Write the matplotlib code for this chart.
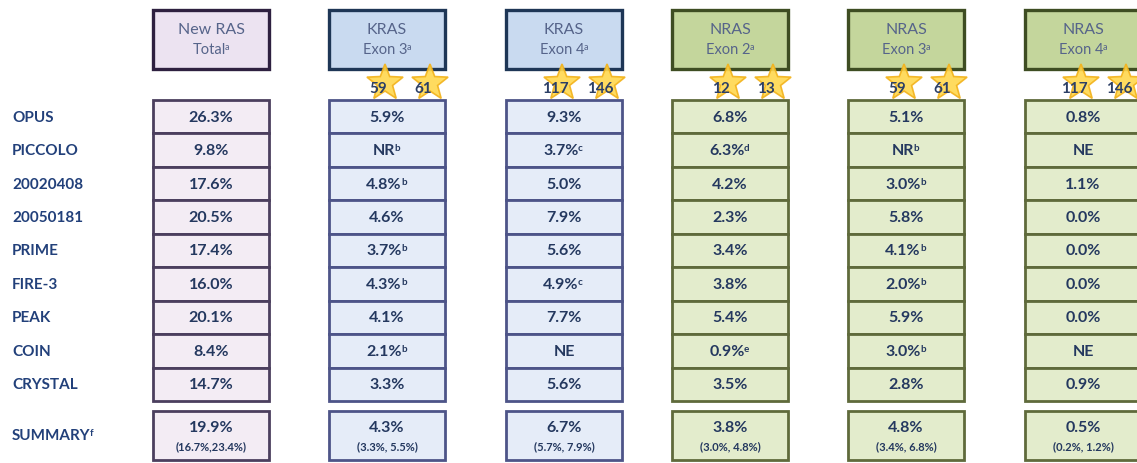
import matplotlib
matplotlib.use("Agg")
import matplotlib.pyplot as plt
import numpy as np
from matplotlib.patches import Rectangle, Polygon

studies = ['OPUS', 'PICCOLO', '20020408', '20050181', 'PRIME', 'FIRE-3', 'PEAK', 'COIN', 'CRYSTAL']

headers = [('New RAS', 'Total'), ('KRAS', 'Exon 3'), ('KRAS', 'Exon 4'),
           ('NRAS', 'Exon 2'), ('NRAS', 'Exon 3'), ('NRAS', 'Exon 4')]
codons = [None, ('59', '61'), ('117', '146'), ('12', '13'), ('59', '61'), ('117', '146')]

new_ras = ['26.3%', '9.8%', '17.6%', '20.5%', '17.4%', '16.0%', '20.1%', '8.4%', '14.7%']
new_ras_sup = [''] * 9
kras3 = ['5.9%', 'NR', '4.8%', '4.6%', '3.7%', '4.3%', '4.1%', '2.1%', '3.3%']
kras3_sup = ['', 'b', 'b', '', 'b', 'b', '', 'b', '']
kras4 = ['9.3%', '3.7%', '5.0%', '7.9%', '5.6%', '4.9%', '7.7%', 'NE', '5.6%']
kras4_sup = ['', 'c', '', '', '', 'c', '', '', '']
nras2 = ['6.8%', '6.3%', '4.2%', '2.3%', '3.4%', '3.8%', '5.4%', '0.9%', '3.5%']
nras2_sup = ['', 'd', '', '', '', '', '', 'e', '']
nras3 = ['5.1%', 'NR', '3.0%', '5.8%', '4.1%', '2.0%', '5.9%', '3.0%', '2.8%']
nras3_sup = ['', 'b', 'b', '', 'b', 'b', '', 'b', '']
nras4 = ['0.8%', 'NE', '1.1%', '0.0%', '0.0%', '0.0%', '0.0%', 'NE', '0.9%']
nras4_sup = [''] * 9

summary = ['19.9%', '4.3%', '6.7%', '3.8%', '4.8%', '0.5%']
summary_ci = ['(16.7%,23.4%)', '(3.3%, 5.5%)', '(5.7%, 7.9%)',
              '(3.0%, 4.8%)', '(3.4%, 6.8%)', '(0.2%, 1.2%)']

columns = [new_ras, kras3, kras4, nras2, nras3, nras4]
columns_sup = [new_ras_sup, kras3_sup, kras4_sup, nras2_sup, nras3_sup, nras4_sup]

# ---- styling ----
FONT = 'Lato'
TXT = '#24385f'
LABEL = '#22407a'
HEAD_TXT = '#56648a'
# (header fill, header edge, cell fill, cell edge)
palette = [
    ('#ece3f1', '#2e2040', '#f3ecf4', '#4b3f5e'),
    ('#c9daf0', '#1e3656', '#e5ecf8', '#4d5488'),
    ('#c9daf0', '#1e3656', '#e5ecf8', '#4d5488'),
    ('#c4d69c', '#3e4d22', '#e3eccc', '#5f6a3b'),
    ('#c4d69c', '#3e4d22', '#e3eccc', '#5f6a3b'),
    ('#c4d69c', '#3e4d22', '#e3eccc', '#5f6a3b'),
]

col_left = [153, 329, 506, 672, 848, 1025]
col_w = 116
head_top, head_bot = 11, 70
data_top, data_bot = 101, 402
sum_top, sum_bot = 412, 461
row_h = (data_bot - data_top) / len(studies)

fig = plt.figure(figsize=(11.37, 4.64), dpi=100)
ax = fig.add_axes([0, 0, 1, 1])
ax.set_xlim(0, 1137)
ax.set_ylim(464, 0)
ax.axis('off')


def star(cx, cy, r_out, r_in):
    pts = []
    for k in range(10):
        a = np.pi / 2 + k * np.pi / 5
        r = r_out if k % 2 == 0 else r_in
        pts.append((cx + r * np.cos(a), cy - r * np.sin(a)))
    return pts


def add_sup(t, sup, size, color, weight='bold'):
    ax.annotate(sup, xy=(1, 1), xycoords=t, xytext=(-0.5, 0),
                textcoords='offset points', ha='left', va='top',
                fontsize=size, fontweight=weight, color=color,
                family=FONT, zorder=5)


def cell_text(x, y, s, sup, size=11.5, color=TXT):
    shift = 3 if sup else 0
    t = ax.text(x - shift, y, s, ha='center', va='center', fontsize=size,
                fontweight='bold', color=color, family=FONT, zorder=5)
    if sup:
        add_sup(t, sup, size * 0.62, color)
    return t


# row labels
for i, name in enumerate(studies):
    y = data_top + (i + 0.5) * row_h
    ax.text(12, y, name, ha='left', va='center', fontsize=11, fontweight='bold',
            color=LABEL, family=FONT)
t = ax.text(12, (sum_top + sum_bot) / 2, 'SUMMARY', ha='left', va='center',
            fontsize=11, fontweight='bold', color=LABEL, family=FONT)
add_sup(t, 'f', 7, LABEL)

for j, (vals, sups) in enumerate(zip(columns, columns_sup)):
    hf, he, cf, ce = palette[j]
    x0 = col_left[j]
    xc = x0 + col_w / 2

    # header box
    ax.add_patch(Rectangle((x0, head_top), col_w, head_bot - head_top, facecolor=hf,
                           edgecolor=he, lw=2.4, zorder=2))
    ax.text(xc, 30, headers[j][0], ha='center', va='center', fontsize=11.5,
            color=HEAD_TXT, family=FONT, zorder=5)
    t = ax.text(xc - 2, 50, headers[j][1], ha='center', va='center', fontsize=10.5,
                color=HEAD_TXT, family=FONT, zorder=5)
    add_sup(t, 'a', 6.5, HEAD_TXT, weight='normal')

    # stars with codon numbers
    if codons[j] is not None:
        for k, c in enumerate(codons[j]):
            sx = x0 + 56 + 45 * k
            ax.add_patch(Polygon(star(sx, 84, 19, 8), closed=True, facecolor='#ffd84d',
                                 edgecolor='#f2b21b', lw=1.2, zorder=6, alpha=0.9))
            ax.text(sx - 7, 89, c, ha='center', va='center', fontsize=11,
                    fontweight='bold', color='#2c3f66', family=FONT, zorder=7)

    # data cells
    for i, (v, s) in enumerate(zip(vals, sups)):
        y0 = data_top + i * row_h
        ax.add_patch(Rectangle((x0, y0), col_w, row_h, facecolor=cf, edgecolor=ce,
                               lw=2, zorder=3))
        cell_text(xc, y0 + row_h / 2, v, s)

    # summary cell
    ax.add_patch(Rectangle((x0, sum_top), col_w, sum_bot - sum_top, facecolor=cf,
                           edgecolor=ce, lw=2, zorder=3))
    ax.text(xc, sum_top + 16, summary[j], ha='center', va='center', fontsize=11.5,
            fontweight='bold', color=TXT, family=FONT, zorder=5)
    ax.text(xc, sum_top + 35, summary_ci[j], ha='center', va='center', fontsize=8,
            fontweight='bold', color=TXT, family=FONT, zorder=5)

fig.savefig('out.png', dpi=100, facecolor='white')
